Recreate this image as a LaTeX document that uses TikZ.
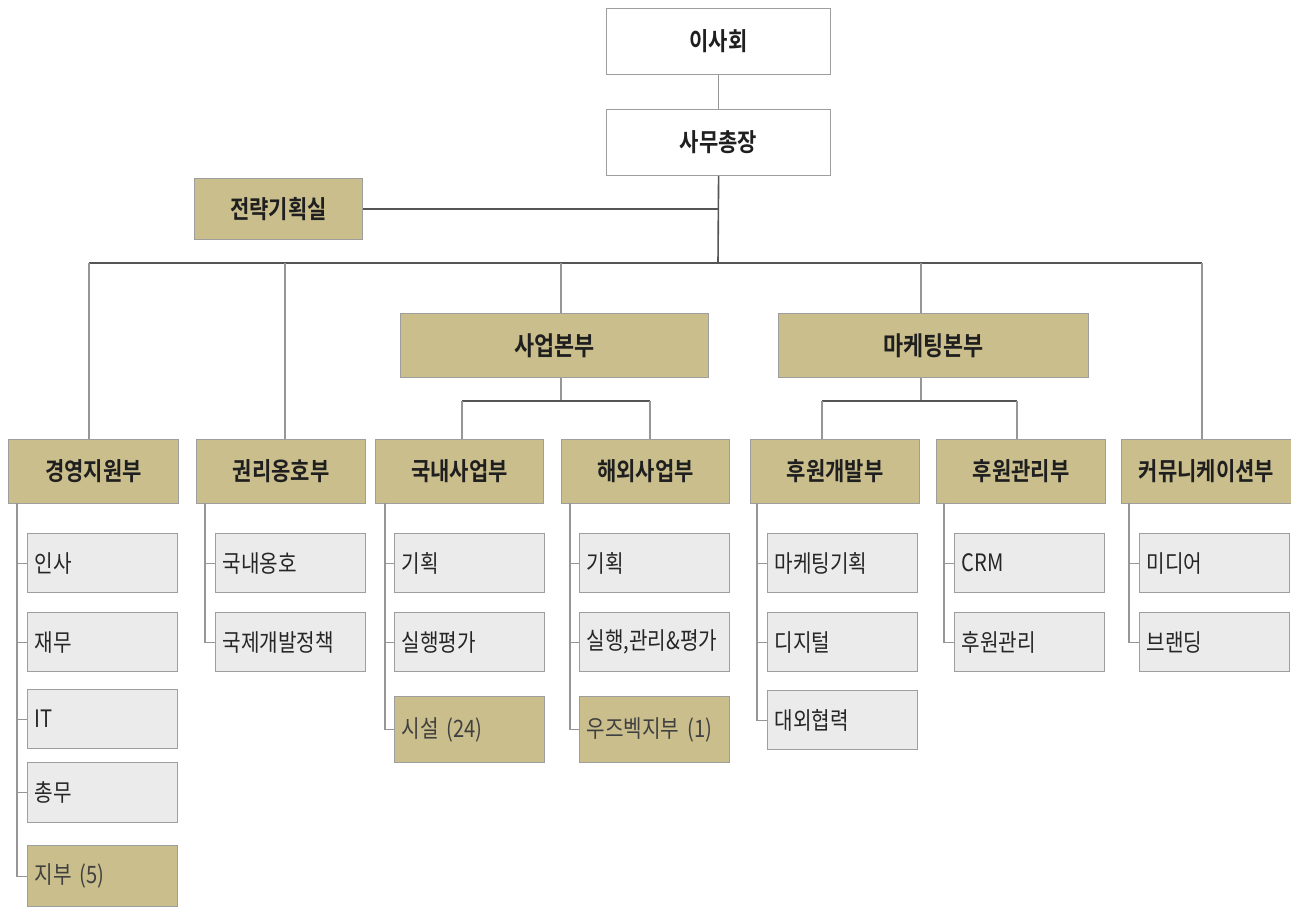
\documentclass[tikz,border=0pt]{standalone}
\usepackage{fontspec}
\setmainfont{Noto Sans CJK KR}[FakeStretch=0.84, BoldFont={Noto Sans CJK KR Bold}]
\definecolor{tan}{RGB}{201,190,140}
\definecolor{lgrey}{RGB}{235,235,235}
\definecolor{bord}{RGB}{158,158,158}
\definecolor{lineA}{RGB}{85,85,85}
\definecolor{lineB}{RGB}{150,150,150}
\tikzset{
  x=1pt,y=-1pt,
  hbox/.style={draw=bord, line width=1.2pt, anchor=north west, inner sep=0pt,
     font=\bfseries\fontsize{25}{25}\selectfont, text=black!88},
  topbox/.style={hbox, fill=white},
  goldbox/.style={hbox, fill=tan},
  kid/.style={draw=bord, line width=1.2pt, anchor=north west, fill=lgrey, inner ysep=0pt,
     inner xsep=7pt, text width=136pt, align=left, text=black!85,
     font=\fontsize{24}{24}\selectfont},
  kidgold/.style={kid, fill=tan, text=black!75},
  bus/.style={draw=lineA, line width=1.6pt},
  sbus/.style={draw=lineB, line width=1.2pt},
  kline/.style={draw=lineB, line width=1.1pt},
}
\begin{document}
\begin{tikzpicture}
\useasboundingbox (0,0) rectangle (1291,907);
% top
\node[topbox, minimum width=224pt, minimum height=66pt] (ish) at (606,8) {이사회};
\node[topbox, minimum width=224pt, minimum height=66pt] (sm) at (606,109) {사무총장};
\node[goldbox, minimum width=168pt, minimum height=61pt] (jr) at (194,178) {전략기획실};
% level 2
\node[goldbox, minimum width=308pt, minimum height=64pt, font=\bfseries\fontsize{26}{26}\selectfont] (sb) at (400,313) {사업본부};
\node[goldbox, minimum width=310pt, minimum height=64pt, font=\bfseries\fontsize{26}{26}\selectfont] (mk) at (778,313) {마케팅본부};
% level 3
\node[goldbox, minimum width=170pt, minimum height=64pt] (gy) at (8,439) {경영지원부};
\node[goldbox, minimum width=169pt, minimum height=64pt] (kw) at (196,439) {권리옹호부};
\node[goldbox, minimum width=168pt, minimum height=64pt] (gn) at (375,439) {국내사업부};
\node[goldbox, minimum width=168pt, minimum height=64pt] (hw) at (561,439) {해외사업부};
\node[goldbox, minimum width=169pt, minimum height=64pt] (hg) at (750,439) {후원개발부};
\node[goldbox, minimum width=169pt, minimum height=64pt] (hk) at (936,439) {후원관리부};
\node[goldbox, minimum width=170pt, minimum height=64pt] (cm) at (1121,439) {커뮤니케이션부};
% children
\node[kid, minimum height=59pt] (gy1) at (27,533) {인사};
\node[kid, minimum height=59pt] (gy2) at (27,612) {재무};
\node[kid, minimum height=59pt] (gy3) at (27,689) {IT};
\node[kid, minimum height=60pt] (gy4) at (27,762) {총무};
\node[kidgold, minimum height=61pt] (gy5) at (27,845) {지부 (5)};
\node[kid, minimum height=59pt] (kw1) at (215,533) {국내옹호};
\node[kid, minimum height=59pt] (kw2) at (215,612) {국제개발정책};
\node[kid, minimum height=59pt] (gn1) at (394,533) {기획};
\node[kid, minimum height=59pt] (gn2) at (394,612) {실행평가};
\node[kidgold, minimum height=66pt] (gn3) at (394,696) {시설 (24)};
\node[kid, minimum height=59pt] (hw1) at (579,533) {기획};
\node[kid, minimum height=59pt] (hw2) at (579,612) {실행,관리\&평가};
\node[kidgold, minimum height=66pt] (hw3) at (579,696) {우즈벡지부 (1)};
\node[kid, minimum height=59pt] (hg1) at (767,533) {마케팅기획};
\node[kid, minimum height=59pt] (hg2) at (767,612) {디지털};
\node[kid, minimum height=59pt] (hg3) at (767,690) {대외협력};
\node[kid, minimum height=59pt] (hk1) at (954,533) {CRM};
\node[kid, minimum height=59pt] (hk2) at (954,612) {후원관리};
\node[kid, minimum height=59pt] (cm1) at (1139,533) {미디어};
\node[kid, minimum height=59pt] (cm2) at (1139,612) {브랜딩};
% main connectors
\coordinate (bj) at (718,263);
\coordinate (bL) at (89,263);
\coordinate (bR) at (1202,263);
\coordinate (bK) at (285,263);
\coordinate (bS) at (561,263);
\coordinate (bM) at (921,263);
\draw[sbus] (ish.south) -- (sm.north);
\draw[bus] (sm.south) -- (bj);
\draw[bus] (jr.east) -- (jr.east -| bj);
\draw[bus] (bL) -- (bR);
\draw[sbus] (bL) -- (bL |- gy.north);
\draw[sbus] (bK) -- (bK |- kw.north);
\draw[sbus] (bS) -- (bS |- sb.north);
\draw[sbus] (bM) -- (bM |- mk.north);
\draw[sbus] (bR) -- (bR |- cm.north);
% sub buses
\coordinate (sS) at (561,401);
\coordinate (sSL) at (462,401);
\coordinate (sSR) at (650,401);
\draw[sbus] (bS |- sb.south) -- (sS);
\draw[bus] (sSL) -- (sSR);
\draw[sbus] (sSL) -- (sSL |- gn.north);
\draw[sbus] (sSR) -- (sSR |- hw.north);
\coordinate (sM) at (921,401);
\coordinate (sML) at (822,401);
\coordinate (sMR) at (1017,401);
\draw[sbus] (bM |- mk.south) -- (sM);
\draw[bus] (sML) -- (sMR);
\draw[sbus] (sML) -- (sML |- hg.north);
\draw[sbus] (sMR) -- (sMR |- hk.north);
% child lines
\coordinate (lgy) at (17,503);
\draw[kline] (lgy) |- (gy5.west);
\foreach \c in {gy1,gy2,gy3,gy4} \draw[kline] (lgy |- \c.west) -- (\c.west);
\coordinate (lkw) at (205,503);
\draw[kline] (lkw) |- (kw2.west);
\draw[kline] (lkw |- kw1.west) -- (kw1.west);
\coordinate (lgn) at (385,503);
\draw[kline] (lgn) |- (gn3.west);
\foreach \c in {gn1,gn2} \draw[kline] (lgn |- \c.west) -- (\c.west);
\coordinate (lhw) at (570,503);
\draw[kline] (lhw) |- (hw3.west);
\foreach \c in {hw1,hw2} \draw[kline] (lhw |- \c.west) -- (\c.west);
\coordinate (lhg) at (757,503);
\draw[kline] (lhg) |- (hg3.west);
\foreach \c in {hg1,hg2} \draw[kline] (lhg |- \c.west) -- (\c.west);
\coordinate (lhk) at (944,503);
\draw[kline] (lhk) |- (hk2.west);
\draw[kline] (lhk |- hk1.west) -- (hk1.west);
\coordinate (lcm) at (1129,503);
\draw[kline] (lcm) |- (cm2.west);
\draw[kline] (lcm |- cm1.west) -- (cm1.west);
\end{tikzpicture}
\end{document}
